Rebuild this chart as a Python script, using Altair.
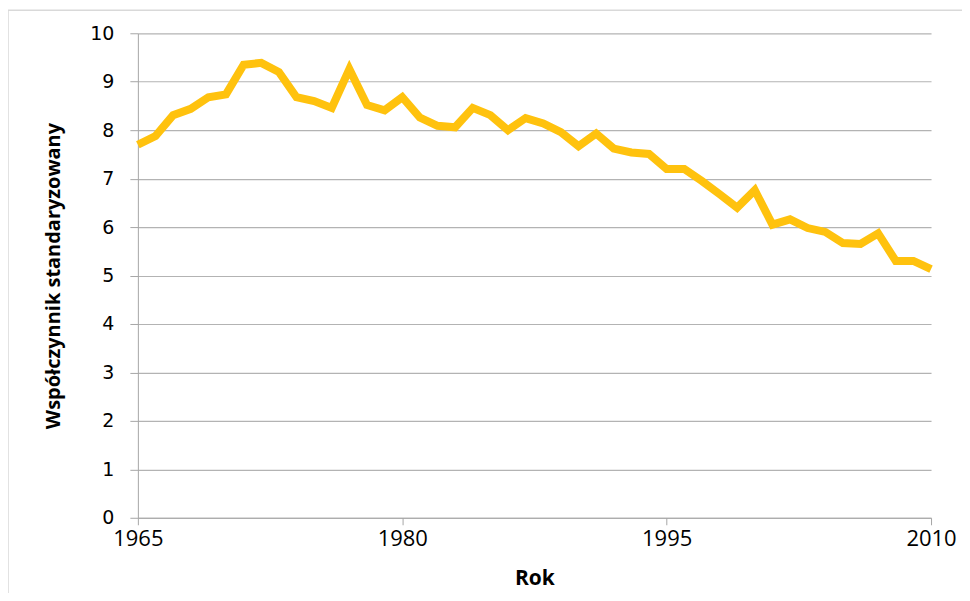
import altair as alt
import pandas as pd

years = list(range(1965, 2011))
values = [7.70, 7.88, 8.31, 8.44, 8.68, 8.74, 9.35, 9.39, 9.20, 8.68,
          8.60, 8.46, 9.26, 8.52, 8.41, 8.68, 8.26, 8.09, 8.06, 8.46,
          8.31, 8.00, 8.25, 8.14, 7.96, 7.67, 7.93, 7.62, 7.54, 7.51,
          7.20, 7.20, 6.95, 6.68, 6.40, 6.76, 6.05, 6.16, 5.98, 5.90,
          5.67, 5.65, 5.87, 5.30, 5.30, 5.13]
x_ticks = [1965, 1980, 1995, 2010]
y_ticks = list(range(0, 11))

df = pd.DataFrame({"Rok": years, "val": values})

frame = alt.Chart(pd.DataFrame({"a": [0]})).mark_rect(
    fill=None, stroke="#d9d9d9", strokeWidth=1.5
).encode(
    x=alt.value(-130), x2=alt.value(880), y=alt.value(-23), y2=alt.value(580)
)

line = alt.Chart(df).mark_line(
    color="#FFC20E", strokeWidth=8, strokeJoin="miter", strokeCap="butt"
).encode(
    x=alt.X("Rok:Q",
            scale=alt.Scale(domain=[1965, 2010], nice=False, zero=False),
            axis=alt.Axis(values=x_ticks, format="d", title="Rok", grid=False,
                          domainColor="#a6a6a6", tickColor="#a6a6a6", tickSize=7,
                          labelFont="Open Sans", labelFontSize=22, labelColor="#000000",
                          labelPadding=4, labelFlush=False,
                          titleFont="Open Sans", titleFontSize=21, titleFontWeight="bold",
                          titleColor="#000000", titlePadding=18)),
    y=alt.Y("val:Q",
            scale=alt.Scale(domain=[0, 10], nice=False),
            axis=alt.Axis(values=y_ticks, title="Współczynnik standaryzowany",
                          grid=True, gridColor="#b3b3b3", gridWidth=1.2,
                          domainColor="#a6a6a6", tickColor="#a6a6a6", tickSize=8,
                          labelFont="DejaVu Sans", labelFontSize=19, labelColor="#000000",
                          labelPadding=16,
                          titleFont="Open Sans", titleFontSize=20, titleFontWeight="bold",
                          titleColor="#000000", titlePadding=26))
)

chart = alt.layer(frame, line).properties(
    width=794, height=485,
    autosize=alt.AutoSizeParams(type="none"),
    padding={"left": 130, "top": 25, "right": 31, "bottom": 75},
    background="white"
).configure_view(stroke=None)

chart.save("out.html", embed_options={"renderer": "svg", "actions": False})
